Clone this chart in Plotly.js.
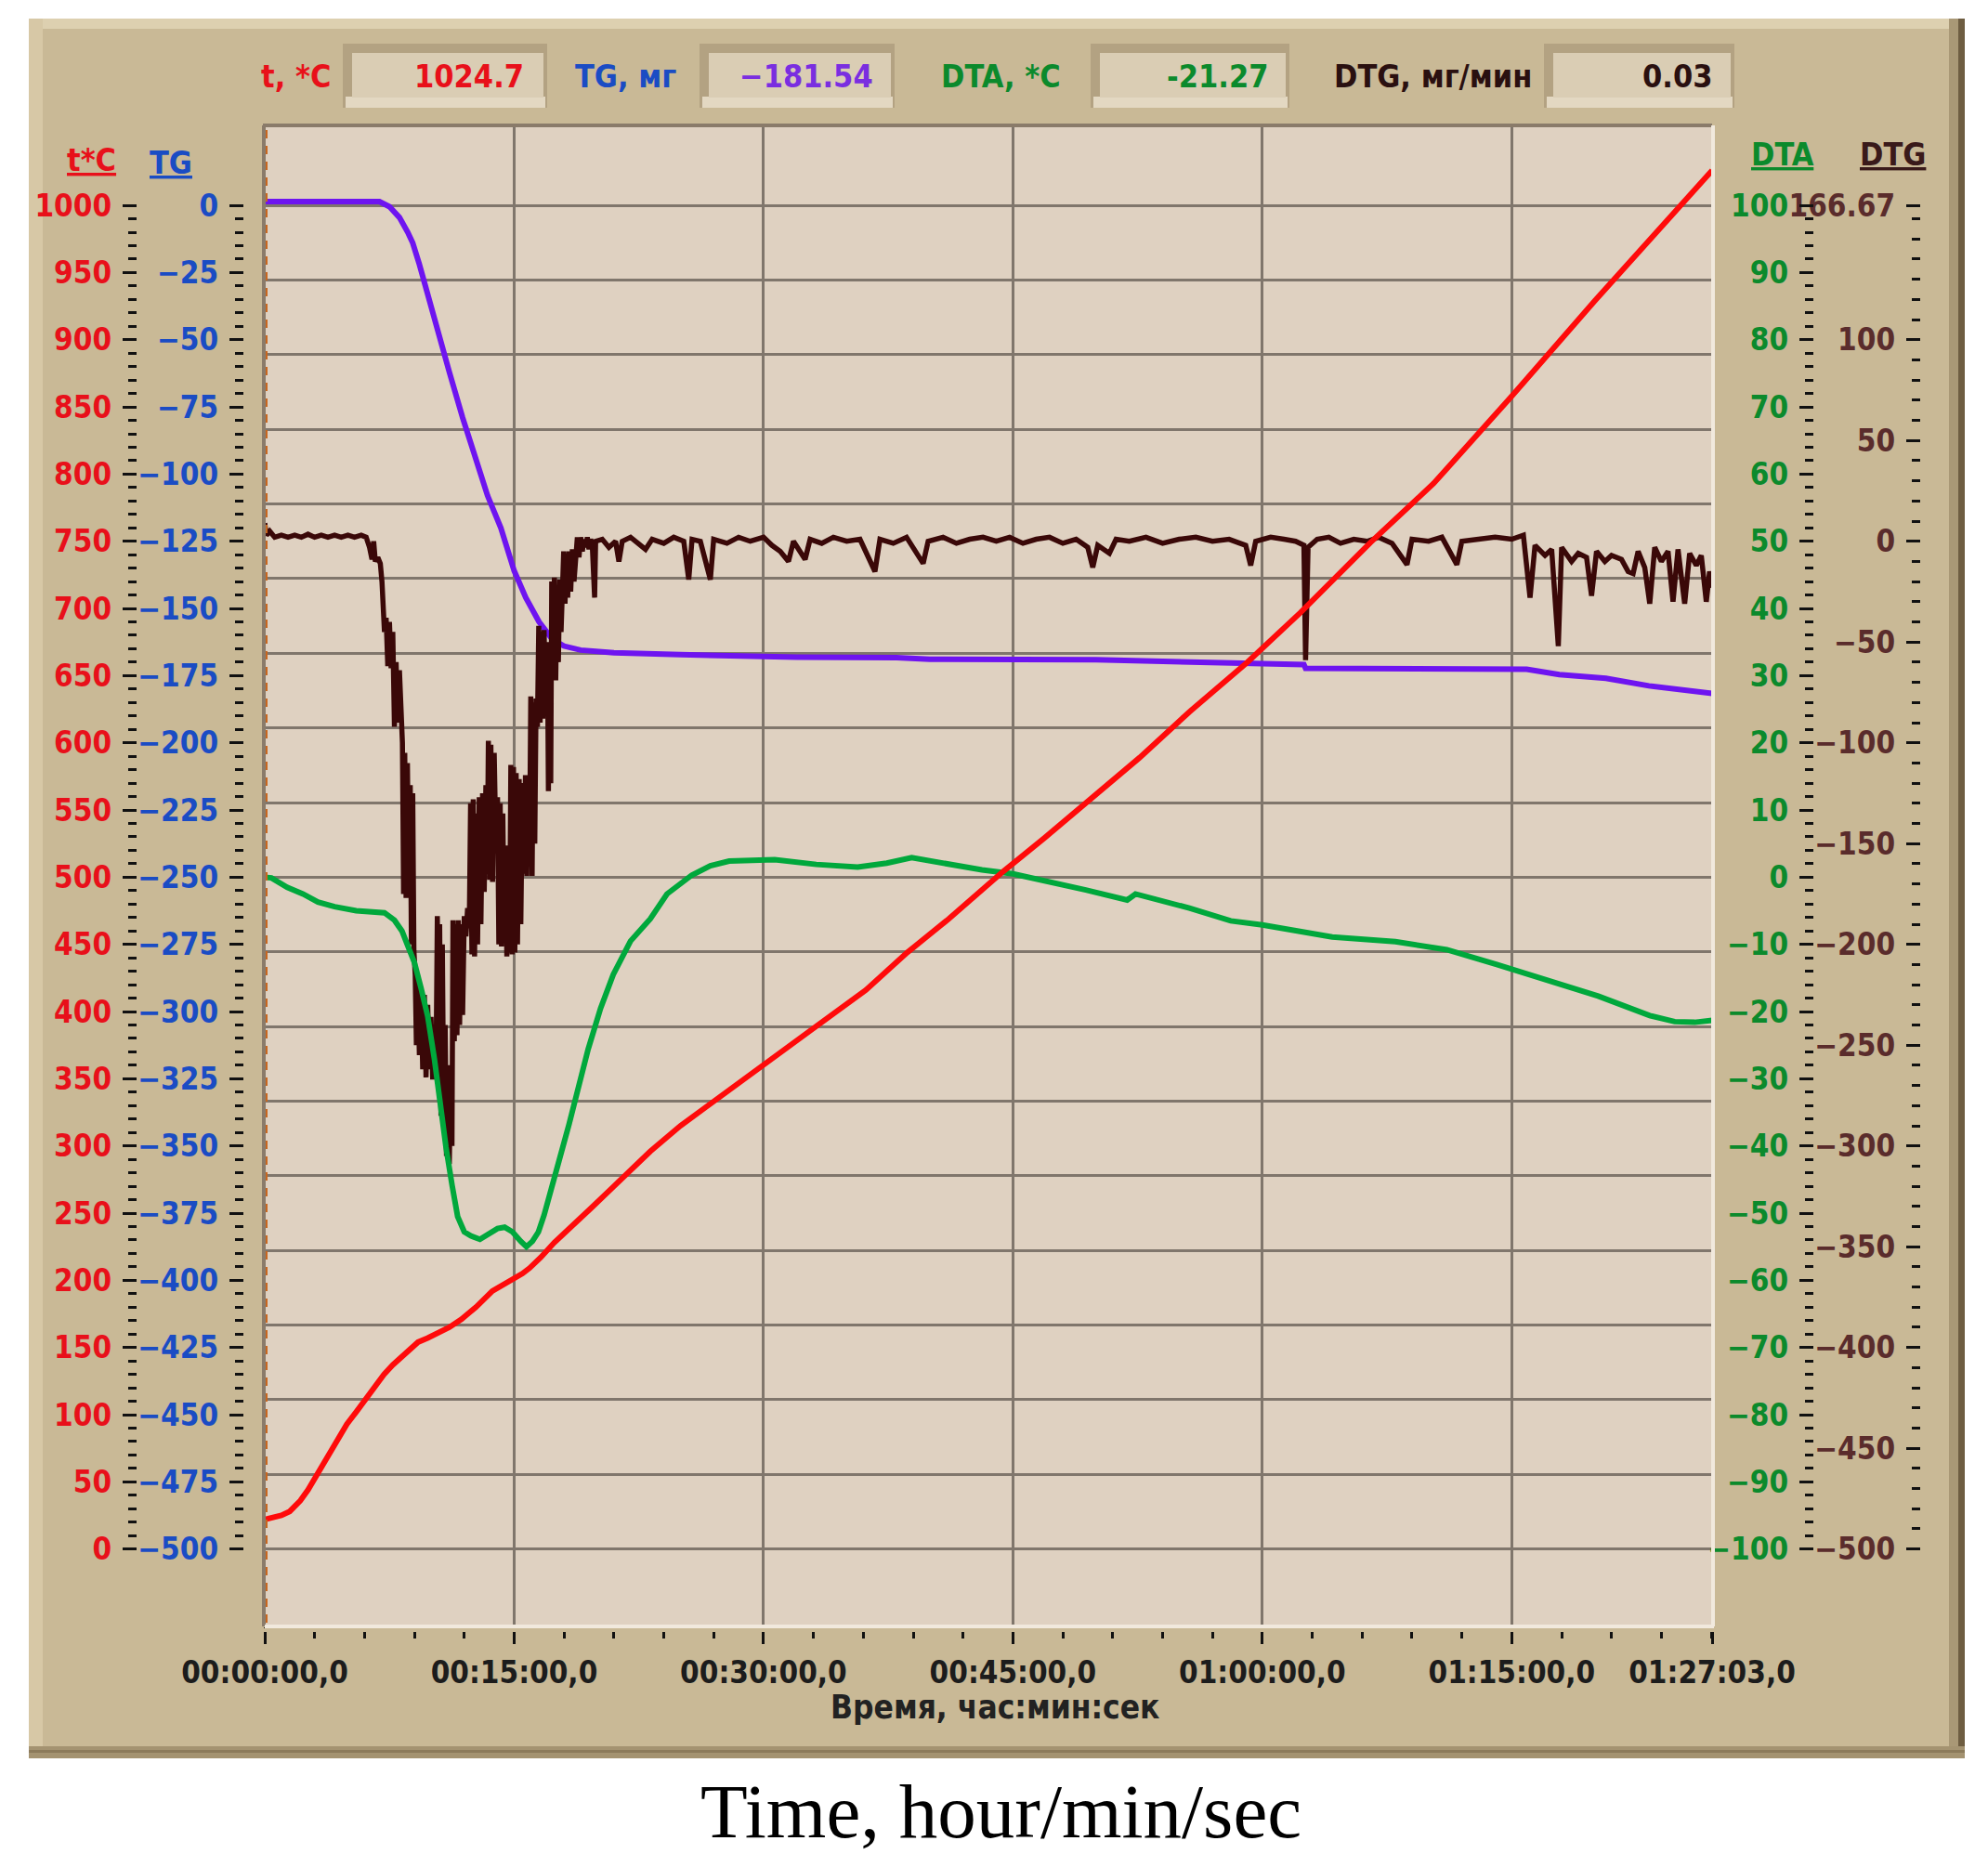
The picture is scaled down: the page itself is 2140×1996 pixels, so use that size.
<!DOCTYPE html>
<html>
<head>
<meta charset="utf-8">
<script src="https://cdn.plot.ly/plotly-3.0.1.min.js"></script>
<style>
  html, body { margin: 0; padding: 0; background: #fff; }
  #chart { width: 2140px; height: 1996px; }
</style>
</head>
<body>
<div id="chart"></div>
<script>
// time axis is in minutes (01:27:03 = 87.05 min)
const tempTime = [0, 0.5, 1.0, 1.5, 2.14, 2.6, 3.07, 3.5, 4.0, 4.5, 4.94, 5.5, 6.05, 6.6, 7.17, 7.7, 8.29, 8.8, 9.22, 9.8,
  10.34, 11.1, 11.83, 12.7, 13.69, 14.4, 15.0, 15.5, 15.92, 16.6, 17.41, 18.72, 19.65, 21.0, 23.19, 25.0, 27.18, 30.12,
  33.17, 36.15, 38.65, 41.14, 44.39, 46.88, 49.38, 52.62, 55.61, 59.1, 62.3, 66.5, 70.3, 75.0, 80.0, 85.76, 87.05];
const tempVal = [22, 23, 25, 28, 36, 44, 54, 63, 74, 84, 93, 102, 111, 121, 130, 137, 144, 150, 154, 157,
  160, 165, 171, 180, 192, 197, 202, 205, 209, 217, 228, 244, 254, 270, 296, 315, 335, 362,
  389, 416, 444, 469, 504, 529, 555, 589, 623, 660, 697, 749, 793, 858, 929, 1008, 1026];

const tgTime = [0, 6.9, 7.5, 8.1, 8.6, 8.9, 9.3, 9.6, 10.0, 10.4, 11.1, 11.9, 12.7, 13.4, 14.2, 15.0, 15.7, 16.5, 17.3,
  18.0, 19.0, 21.0, 25.0, 27.0, 32.0, 38.0, 40.0, 50.0, 54.0, 60.0, 62.5, 62.6, 70.0, 75.9, 77.86, 80.66, 83.25, 85.43, 87.05];
const tgVal = [1.4, 1.4, -0.5, -4.5, -10, -14, -22, -29, -38, -47, -62, -79, -94, -108, -120, -136, -146, -155, -161.5,
  -164, -165.5, -166.5, -167.2, -167.6, -168.1, -168.3, -168.9, -169.1, -169.6, -170.2, -170.9, -172.3, -172.4, -172.6, -174.6, -176.0, -178.8, -180.5, -181.6];

const dtaTime = [0, 0.4, 1.35, 2.3, 3.2, 4.2, 5.5, 7.2, 7.8, 8.25, 8.6, 9.0, 9.4, 9.8, 10.2, 10.5, 10.9, 11.27, 11.6, 12.0,
  12.4, 12.94, 13.5, 14.0, 14.43, 14.9, 15.4, 15.74, 16.1, 16.46, 16.8, 17.2, 17.7, 18.3, 18.9, 19.45, 20.2, 20.96, 22.0,
  23.19, 24.19, 25.68, 26.8, 27.93, 30.67, 33.17, 35.66, 37.41, 38.91, 40.65, 43.14, 45.0, 46.88, 49.38, 51.87, 52.37,
  55.61, 58.1, 60.0, 62.3, 64.2, 68.0, 71.1, 74.1, 77.2, 80.2, 83.3, 84.8, 86.0, 87.05];
const dtaVal = [0, -0.1, -1.5, -2.5, -3.7, -4.4, -5.0, -5.3, -6.4, -8.0, -10.2, -12.7, -16.5, -20.7, -27, -33.2, -40.2, -45.9, -50.5, -52.8,
  -53.4, -53.9, -53.0, -52.3, -52.1, -52.8, -54.2, -55, -54.2, -52.8, -50.3, -47, -42.2, -36.8, -31, -25.6, -19.5, -14.5, -9.5,
  -6.2, -2.5, 0.3, 1.7, 2.4, 2.6, 1.9, 1.5, 2.1, 2.9, 2.1, 1.1, 0.5, -0.5, -1.9, -3.4, -2.5,
  -4.6, -6.5, -7.1, -8.0, -8.9, -9.6, -10.8, -13, -15.3, -17.7, -20.6, -21.5, -21.6, -21.3];

const dtgTime = [
  0, 0.1, 0.3, 0.6, 1.0, 1.4, 1.8, 2.2, 2.6, 3.0, 3.4, 3.8, 4.2, 4.6, 5.0, 5.4, 5.8, 6.1,
  6.3, 6.45, 6.55, 6.65, 6.8, 6.95, 7.05, 7.1, 7.2, 7.3, 7.4, 7.5, 7.6, 7.7, 7.8, 7.9, 8.0, 8.1, 8.2,
  8.28, 8.35, 8.42, 8.5, 8.58, 8.66, 8.75, 8.82, 8.9, 8.97, 9.05, 9.12, 9.2, 9.3, 9.4, 9.5, 9.6, 9.7, 9.8, 9.9,
  10.0, 10.1, 10.2, 10.3, 10.38, 10.45, 10.52, 10.6, 10.68, 10.76, 10.85, 10.93, 11.0, 11.1, 11.18, 11.26,
  11.32, 11.4, 11.48, 11.56, 11.64, 11.72, 11.8, 11.9, 12.0, 12.1, 12.2, 12.3,
  12.38, 12.46, 12.54, 12.62, 12.7, 12.8, 12.9, 13.0, 13.1, 13.2, 13.3,
  13.38, 13.45, 13.53, 13.6, 13.7, 13.8, 13.9, 14.0, 14.08, 14.16, 14.24, 14.32, 14.4,
  14.48, 14.56, 14.64, 14.72, 14.8, 14.88, 14.96, 15.04, 15.12, 15.2, 15.3, 15.4, 15.5, 15.6,
  15.68, 15.76, 15.84, 15.92, 16.0, 16.08, 16.16, 16.24, 16.32, 16.4, 16.48, 16.56, 16.64, 16.72, 16.8, 16.9,
  17.0, 17.06, 17.12, 17.2, 17.26, 17.34, 17.42, 17.5, 17.58, 17.66, 17.74, 17.82, 17.9,
  17.98, 18.06, 18.14, 18.22, 18.3, 18.4, 18.5, 18.6, 18.7, 18.8, 18.9, 19.0, 19.1, 19.2, 19.3, 19.4, 19.5, 19.6, 19.7, 19.84, 19.9,
  20.3, 20.7, 21.1, 21.3, 21.5, 22.0, 22.9, 23.3, 24.0, 24.6, 25.2, 25.5, 25.7, 26.2, 26.8, 27.0, 27.8, 28.5, 29.2,
  30.0, 30.5, 31.0, 31.5, 31.8, 32.5, 32.8, 33.5, 34.2, 35.0, 35.8, 36.7, 37.0, 37.8, 38.6, 39.6, 39.9,
  40.8, 41.6, 42.4, 43.2, 44.0, 44.8, 45.6, 46.4, 47.2, 48.0, 48.8, 49.5, 49.8, 50.1, 50.8, 51.2,
  52.0, 53.0, 54.0, 55.0, 56.0, 57.0, 58.0, 59.0, 59.3, 59.6, 60.5, 61.3, 62.0, 62.5, 62.6, 62.75,
  63.3, 64.0, 64.7, 65.5, 66.3, 67.0, 67.8, 68.7, 69.0, 70.0, 70.8, 71.7, 72.0, 73.0, 74.0, 75.0, 75.7,
  76.1, 76.4, 77.0, 77.4, 77.8, 78.0, 78.6, 79.0, 79.5, 79.8, 80.1, 80.6, 81.0, 81.6, 82.0, 82.3, 82.6,
  83.0, 83.3, 83.6, 84.0, 84.4, 84.7, 85.0, 85.4, 85.7, 86.1, 86.4, 86.7, 86.9, 87.05];
const dtgVal = [
  9, 3, 5, 2, 3, 2, 3, 2, 3.5, 2, 3, 2, 3, 2, 3, 2, 3, 2,
  -3, -9, 0, -10, -8, -11, -20, -37, -45, -38, -62, -40, -63, -45, -92, -60, -90, -64, -92,
  -100, -175, -105, -177, -110, -170, -121, -200, -125, -203, -215, -250, -220, -255, -222, -262, -225, -266, -230, -262,
  -236, -267, -240, -262, -186, -270, -190, -285, -200, -280, -240, -305, -260, -309, -265, -300,
  -188, -248, -190, -245, -188, -240, -190, -235, -186, -196, -182, -192,
  -130, -205, -128, -206, -135, -200, -127, -190, -125, -174, -121,
  -165, -99, -168, -101, -169, -105, -150, -127, -200, -130, -201, -135, -195,
  -151, -206, -155, -204, -111, -205, -112, -204, -115, -200, -118, -190, -120, -165,
  -116, -166, -118, -160, -77, -166, -80, -150, -78, -92, -42, -90, -45, -88, -44, -85,
  -50, -124, -55, -120, -20, -65, -18, -69, -22, -60, -19, -45, -20,
  -5, -31, -6, -28, -5, -25, -4, -20, -3, 2, -8, 2, -5, 1, -3, 2, -4, 1, -2, -28, 0,
  1, -3, 0, -10, 0, 2, -4, 1, -1, 2, 0, -19, 1, 0, -19, 1, -1, 2, 0,
  2, -2, -5, -10, 0, -9, 1, -1, 2, 0, 1, -15, 1, -1, 2, -11, 0,
  2, -1, 1, 2, 0, 2, -1, 1, 2, -1, 1, -3, -13, -2, -6, 1,
  0, 2, -1, 1, 2, 0, 1, -2, -12, 0, 2, 1, 0, -2, -59, -3,
  1, 2, -1, 1, 0, 2, -1, -11.6, 1, 0, 2, -11.6, 0, 1, 2, 1, 3,
  -28, -2, -7, -4, -52, -3, -10, -6, -8, -27, -5, -10, -7, -9, -15, -16, -5,
  -13, -31, -3, -10, -5, -30, -4, -31, -6, -12, -7, -30, -15, -23];

// LabVIEW cursor sitting at t = 0
const cursorTime = [0, 0];
const cursorSpan = [-1.2, 19.2];

// tick labels
const xTickVals = [0, 15, 30, 45, 60, 75, 87.05];
const xTickText = ['00:00:00,0', '00:15:00,0', '00:30:00,0', '00:45:00,0', '01:00:00,0', '01:15:00,0', '01:27:03,0'];
const dtgTop = 166.67;

// numeric readouts in the header
const readoutLabels = ['t, *C', 'TG, мг', 'DTA, *C', 'DTG, мг/мин'];
const readoutValues = ['1024.7', '\u2212181.54', '-21.27', '0.03'];
const axisNames = ['t*C', 'TG', 'DTA', 'DTG'];

function steps(a, b, d) {
  const out = [];
  for (let v = a; v <= b + 1e-9; v += d) out.push(Math.round(v * 100) / 100);
  return out;
}

// ---- page geometry (px) ----
const W = 2140, H = 1996;
const M = {l: 60, r: 60, t: 135, b: 245};
const PW = W - M.l - M.r, PH = H - M.t - M.b;
const px = X => (X - M.l) / PW;
const py = Y => (H - M.b - Y) / PH;
const plotL = 285, plotR = 1843, plotT = 135, plotB = 1751;

// every value axis puts its labelled extent on the same band
function rangeFor(lo, hi) {
  const s = hi - lo;
  return [lo - 0.0576 * s, hi + 0.0595 * s];
}

const cond = '"DejaVu Sans Condensed", "DejaVu Sans", sans-serif';
const RED = '#e8101a', BLUE = '#1a4cc4', GREEN = '#0b8a2c', BROWN = '#5a2c2c';

function valueAxis(o) {
  const ax = {
    anchor: 'free', position: px(o.at), side: 'left',
    range: rangeFor(o.lo, o.hi),
    tickmode: 'array', tickvals: o.ticks,
    ticks: 'outside', ticklen: 15, tickwidth: 3, tickcolor: '#111',
    minor: {tickmode: 'array', tickvals: o.minor, ticks: 'outside', ticklen: 9, tickwidth: 3, tickcolor: '#111'},
    tickfont: {family: cond, size: 33, color: o.color, weight: 'bold'},
    ticklabelstandoff: 5,
    showgrid: false, zeroline: false, showline: false, fixedrange: true
  };
  if (o.text) ax.ticktext = o.text;
  if (o.overlay) ax.overlaying = o.overlay;
  return ax;
}

const dtgTicks = steps(-500, 150, 50).concat([dtgTop]);
const dtgText = dtgTicks.map(v => v === 150 ? '' : v === dtgTop ? '166.67' : (v < 0 ? '\u2212' + (-v) : String(v)));

const traces = [
  {x: tgTime, y: tgVal, xaxis: 'x', yaxis: 'y', mode: 'lines', line: {color: '#6e14f0', width: 6}},
  {x: dtgTime, y: dtgVal, xaxis: 'x', yaxis: 'y2', mode: 'lines', line: {color: '#3a0808', width: 5.5}},
  {x: dtaTime, y: dtaVal, xaxis: 'x', yaxis: 'y3', mode: 'lines', line: {color: '#00a83c', width: 6}},
  {x: tempTime, y: tempVal, xaxis: 'x', yaxis: 'y4', mode: 'lines', line: {color: '#ff0a0a', width: 6}},
  {x: cursorTime, y: cursorSpan, xaxis: 'x2', yaxis: 'y5', mode: 'lines', line: {color: '#c8661e', width: 6, dash: '9px,8px'}}
];

// panel and header boxes
const shapes = [
  {x0: px(31), x1: px(2115), y0: py(1893), y1: py(20), fillcolor: '#c9b996'},
  {x0: px(31), x1: px(2115), y0: py(31), y1: py(20), fillcolor: '#ddd0b0'},
  {x0: px(31), x1: px(46), y0: py(1893), y1: py(20), fillcolor: '#d7c8a6'},
  {x0: px(2098), x1: px(2108), y0: py(1893), y1: py(20), fillcolor: '#a99876'},
  {x0: px(2108), x1: px(2115), y0: py(1893), y1: py(20), fillcolor: '#6e5d41'},
  {x0: px(31), x1: px(2115), y0: py(1893), y1: py(1880), fillcolor: '#a49371'},
  {x0: px(31), x1: px(2115), y0: py(1887), y1: py(1884), fillcolor: '#8c7b5b'},
  {x0: px(plotL), x1: px(plotR), y0: py(plotB), y1: py(plotT), fillcolor: '#dfd1c1'}
].map(s => Object.assign({type: 'rect', xref: 'paper', yref: 'paper', layer: 'below', line: {width: 0}}, s));

const boxLeft = [369, 753, 1174, 1662], boxRight = [589, 963, 1388, 1867];
boxLeft.forEach((l, i) => {
  const r = boxRight[i];
  shapes.push({type: 'rect', xref: 'paper', yref: 'paper', layer: 'below', line: {width: 0},
    x0: px(l), x1: px(r), y0: py(116), y1: py(47), fillcolor: '#b3a282'});
  shapes.push({type: 'rect', xref: 'paper', yref: 'paper', layer: 'below', line: {width: 0},
    x0: px(l + 3), x1: px(r - 2), y0: py(116), y1: py(104), fillcolor: '#e3d8c2'});
  shapes.push({type: 'rect', xref: 'paper', yref: 'paper', layer: 'below', line: {width: 0},
    x0: px(l + 10), x1: px(r - 4), y0: py(105), y1: py(57), fillcolor: '#dacdb4'});
});

// plot frame: dark top/left, light bottom/right
const frame = [
  [plotL - 2, plotT, plotR, plotT, '#8a7b6a'],
  [plotL - 1, plotT, plotL - 1, plotB, '#8a7b6a'],
  [plotL, plotB, plotR + 2, plotB, '#f1e9dd'],
  [plotR + 1, plotT, plotR + 1, plotB, '#f1e9dd']
];
frame.forEach(f => shapes.push({type: 'line', xref: 'paper', yref: 'paper', layer: 'above',
  x0: px(f[0]), y0: py(f[1]), x1: px(f[2]), y1: py(f[3]), line: {color: f[4], width: 4}}));
// small gap between the frame and the time ticks
shapes.push({type: 'rect', xref: 'paper', yref: 'paper', layer: 'above', line: {width: 0},
  x0: px(plotL - 10), x1: px(plotR + 10), y0: py(1757), y1: py(1753), fillcolor: '#c9b996'});

const annotations = [];
const hdrY = py(82);
const labelRight = [358, 730, 1144, 1651], valueRight = [566, 942, 1367, 1845];
const labelColor = [RED, BLUE, GREEN, '#2a1010'];
const valueColor = [RED, '#7a2ee0', GREEN, '#2a1010'];
readoutLabels.forEach((t, i) => {
  annotations.push({text: t, x: px(labelRight[i]), y: hdrY, xanchor: 'right', yanchor: 'middle',
    font: {family: cond, size: 34, color: labelColor[i], weight: 'bold'}});
  annotations.push({text: readoutValues[i], x: px(valueRight[i]), y: hdrY, xanchor: 'right', yanchor: 'middle',
    font: {family: cond, size: 34, color: valueColor[i], weight: 'bold'}});
});
const nameX = [98, 184, 1919, 2037], nameY = [172, 175, 166, 166];
const nameColor = [RED, BLUE, GREEN, '#3a1a1a'];
axisNames.forEach((t, i) => annotations.push({text: '<u>' + t + '</u>', x: px(nameX[i]), y: py(nameY[i]),
  xanchor: 'center', yanchor: 'middle', font: {family: cond, size: 34, color: nameColor[i], weight: 'bold'}}));
annotations.push({text: 'Время, час:мин:сек', x: px(1071), y: py(1838), xanchor: 'center', yanchor: 'middle',
  font: {family: cond, size: 35, color: '#222', weight: 'bold'}});
annotations.push({text: 'Time, hour/min/sec', x: px(1077), y: py(1950), xanchor: 'center', yanchor: 'middle',
  font: {family: '"Liberation Serif", "DejaVu Serif", serif', size: 83, color: '#000'}});
annotations.forEach(a => { a.xref = 'paper'; a.yref = 'paper'; a.showarrow = false; });

const layout = {
  width: W, height: H,
  margin: M,
  paper_bgcolor: '#ffffff',
  plot_bgcolor: 'rgba(0,0,0,0)',
  showlegend: false,
  xaxis: {
    domain: [px(plotL), px(plotR)], range: [0, 87.05], anchor: 'y',
    tickmode: 'array', tickvals: xTickVals, ticktext: xTickText,
    ticks: 'outside', ticklen: 18, tickwidth: 3, tickcolor: '#111',
    minor: {tickmode: 'array', tickvals: steps(0, 87, 3), ticks: 'outside', ticklen: 12, tickwidth: 3, tickcolor: '#111'},
    tickfont: {family: cond, size: 33, color: '#1c1c1c', weight: 'bold'},
    ticklabelstandoff: 2,
    showgrid: false, zeroline: false, showline: false, fixedrange: true
  },
  xaxis2: {
    overlaying: 'x', anchor: 'y5', range: [0, 87.05],
    tickmode: 'array', tickvals: [0, 15, 30, 45, 60, 75],
    showgrid: true, gridcolor: '#80766c', gridwidth: 3,
    showticklabels: false, ticks: '', zeroline: false, showline: false
  },
  yaxis: valueAxis({at: 261.7, lo: -500, hi: 0, ticks: steps(-500, 0, 25), minor: steps(-500, 0, 5), color: BLUE}),
  yaxis2: valueAxis({at: 2066.7, lo: -500, hi: dtgTop, ticks: dtgTicks, text: dtgText, minor: steps(-500, 160, 10), color: BROWN, overlay: 'y'}),
  yaxis3: valueAxis({at: 1951.7, lo: -100, hi: 100, ticks: steps(-100, 100, 10), minor: steps(-100, 100, 2), color: GREEN, overlay: 'y'}),
  yaxis4: valueAxis({at: 146.7, lo: 0, hi: 1000, ticks: steps(0, 1000, 50), minor: steps(0, 1000, 10), color: RED, overlay: 'y'}),
  yaxis5: {
    overlaying: 'y', anchor: 'x2', range: rangeFor(0, 18),
    tickmode: 'array', tickvals: steps(0, 18, 1),
    showgrid: true, gridcolor: '#80766c', gridwidth: 3,
    showticklabels: false, ticks: '', zeroline: false, showline: false
  },
  shapes: shapes,
  annotations: annotations
};

Plotly.newPlot('chart', traces, layout, {staticPlot: true, displayModeBar: false});
</script>
</body>
</html>
